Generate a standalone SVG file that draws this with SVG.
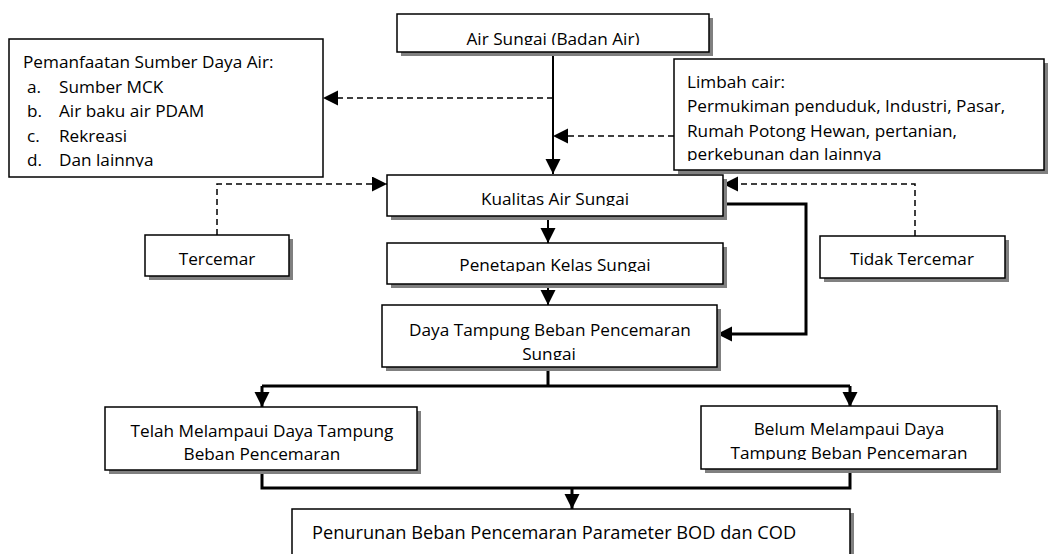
<svg xmlns="http://www.w3.org/2000/svg" width="1048" height="554" viewBox="0 0 1048 554">
<style>
.box{fill:#fff;stroke:#000;stroke-width:1.5}
.sh{fill:#808080}
.t{font-family:"Open Sans","Liberation Sans",sans-serif;font-size:17.2px;fill:#000}
.big{font-size:18.2px}
.m{text-anchor:middle}
.dash{fill:none;stroke:#000;stroke-width:1.5;stroke-dasharray:6 4}
.thin{fill:none;stroke:#000;stroke-width:2}
.bold{fill:none;stroke:#000;stroke-width:3}
</style>
<defs>
<marker id="ah" markerUnits="userSpaceOnUse" markerWidth="16" markerHeight="16" refX="15" refY="7.5" orient="auto">
<path d="M0,0 L15,7.5 L0,15 Z" fill="#000"/>
</marker>
<clipPath id="cAir"><rect x="397" y="14" width="312" height="31"/></clipPath>
<clipPath id="cPem"><rect x="9" y="39" width="314" height="128"/></clipPath>
<clipPath id="cLim"><rect x="674" y="59" width="374" height="102"/></clipPath>
<clipPath id="cKua"><rect x="387" y="175" width="336" height="31"/></clipPath>
<clipPath id="cPen"><rect x="387" y="243" width="336" height="29"/></clipPath>
<clipPath id="cDay"><rect x="382" y="305" width="335" height="55"/></clipPath>
<clipPath id="cBel"><rect x="701" y="406" width="296" height="54"/></clipPath>
</defs>

<g id="connectors">
<line class="thin" x1="553" y1="52" x2="553" y2="174" marker-end="url(#ah)"/>
<line class="dash" x1="553" y1="98" x2="323" y2="98" marker-end="url(#ah)"/>
<line class="dash" x1="674" y1="136" x2="553" y2="136" marker-end="url(#ah)"/>
<polyline class="dash" points="217,235 217,184 387,184" marker-end="url(#ah)"/>
<polyline class="dash" points="915,236 915,184 723,184" marker-end="url(#ah)"/>
<line class="thin" x1="548" y1="216" x2="548" y2="243" marker-end="url(#ah)"/>
<line class="thin" x1="548" y1="284" x2="548" y2="305" marker-end="url(#ah)"/>
<polyline class="bold" points="723,204 806,204 806,334 717,334" marker-end="url(#ah)"/>
<line class="bold" x1="548" y1="367" x2="548" y2="386"/>
<line class="bold" x1="262" y1="386" x2="850" y2="386"/>
<line class="bold" x1="262" y1="386" x2="262" y2="407" marker-end="url(#ah)"/>
<line class="bold" x1="850" y1="386" x2="850" y2="407" marker-end="url(#ah)"/>
<polyline class="bold" points="262,470 262,488 850,488 850,469"/>
<line class="bold" x1="572" y1="488" x2="572" y2="509" marker-end="url(#ah)"/>
</g>

<g id="air-sungai">
<rect class="sh" x="401" y="18" width="312" height="38"/>
<rect class="box" x="397" y="14" width="312" height="38"/>
<text class="t m" x="553" y="44.5" clip-path="url(#cAir)">Air Sungai (Badan Air)</text>
</g>

<g id="pemanfaatan">
<rect class="box" x="9" y="39" width="314" height="138"/>
<g clip-path="url(#cPem)">
<text class="t" x="23" y="68">Pemanfaatan Sumber Daya Air:</text>
<text class="t" x="27" y="93">a.</text><text class="t" x="59" y="93">Sumber MCK</text>
<text class="t" x="27" y="117">b.</text><text class="t" x="59" y="117">Air baku air PDAM</text>
<text class="t" x="27" y="142">c.</text><text class="t" x="59" y="142">Rekreasi</text>
<text class="t" x="27" y="166">d.</text><text class="t" x="59" y="166">Dan lainnya</text>
</g>
</g>

<g id="limbah">
<rect class="sh" x="678" y="63" width="370" height="111"/>
<rect class="box" x="674" y="59" width="370" height="111"/>
<g clip-path="url(#cLim)">
<text class="t" x="687" y="88">Limbah cair:</text>
<text class="t" x="687" y="112">Permukiman penduduk, Industri, Pasar,</text>
<text class="t" x="687" y="137">Rumah Potong Hewan, pertanian,</text>
<text class="t" x="687" y="160">perkebunan dan lainnya</text>
</g>
</g>

<g id="kualitas">
<rect class="sh" x="391" y="179" width="336" height="41"/>
<rect class="box" x="387" y="175" width="336" height="41"/>
<text class="t m" x="555" y="204.5" clip-path="url(#cKua)">Kualitas Air Sungai</text>
</g>

<g id="tercemar">
<rect class="sh" x="149" y="239" width="144" height="41"/>
<rect class="box" x="145" y="235" width="144" height="41"/>
<text class="t m" x="217" y="265">Tercemar</text>
</g>

<g id="tidak-tercemar">
<rect class="sh" x="824" y="240" width="185" height="42"/>
<rect class="box" x="820" y="236" width="185" height="42"/>
<text class="t m" x="912" y="265">Tidak Tercemar</text>
</g>

<g id="penetapan">
<rect class="sh" x="391" y="247" width="336" height="41"/>
<rect class="box" x="387" y="243" width="336" height="41"/>
<text class="t m" x="555" y="270.5" clip-path="url(#cPen)">Penetapan Kelas Sungai</text>
</g>

<g id="daya-tampung">
<rect class="sh" x="386" y="309" width="335" height="62"/>
<rect class="box" x="382" y="305" width="335" height="62"/>
<g clip-path="url(#cDay)">
<text class="t m" x="550" y="336">Daya Tampung Beban Pencemaran</text>
<text class="t m" x="549" y="359.5">Sungai</text>
</g>
</g>

<g id="telah">
<rect class="sh" x="109" y="411" width="312" height="63"/>
<rect class="box" x="105" y="407" width="312" height="63"/>
<text class="t m" x="262" y="437">Telah Melampaui Daya Tampung</text>
<text class="t m" x="262" y="460">Beban Pencemaran</text>
</g>

<g id="belum">
<rect class="sh" x="705" y="410" width="296" height="63"/>
<rect class="box" x="701" y="406" width="296" height="63"/>
<g clip-path="url(#cBel)">
<text class="t m" x="849" y="435">Belum Melampaui Daya</text>
<text class="t m" x="849" y="459">Tampung Beban Pencemaran</text>
</g>
</g>

<g id="penurunan">
<rect class="sh" x="296" y="513" width="558" height="60"/>
<rect class="box" x="292" y="509" width="558" height="60"/>
<text class="t big" x="312" y="539">Penurunan Beban Pencemaran Parameter BOD dan COD</text>
</g>
</svg>
